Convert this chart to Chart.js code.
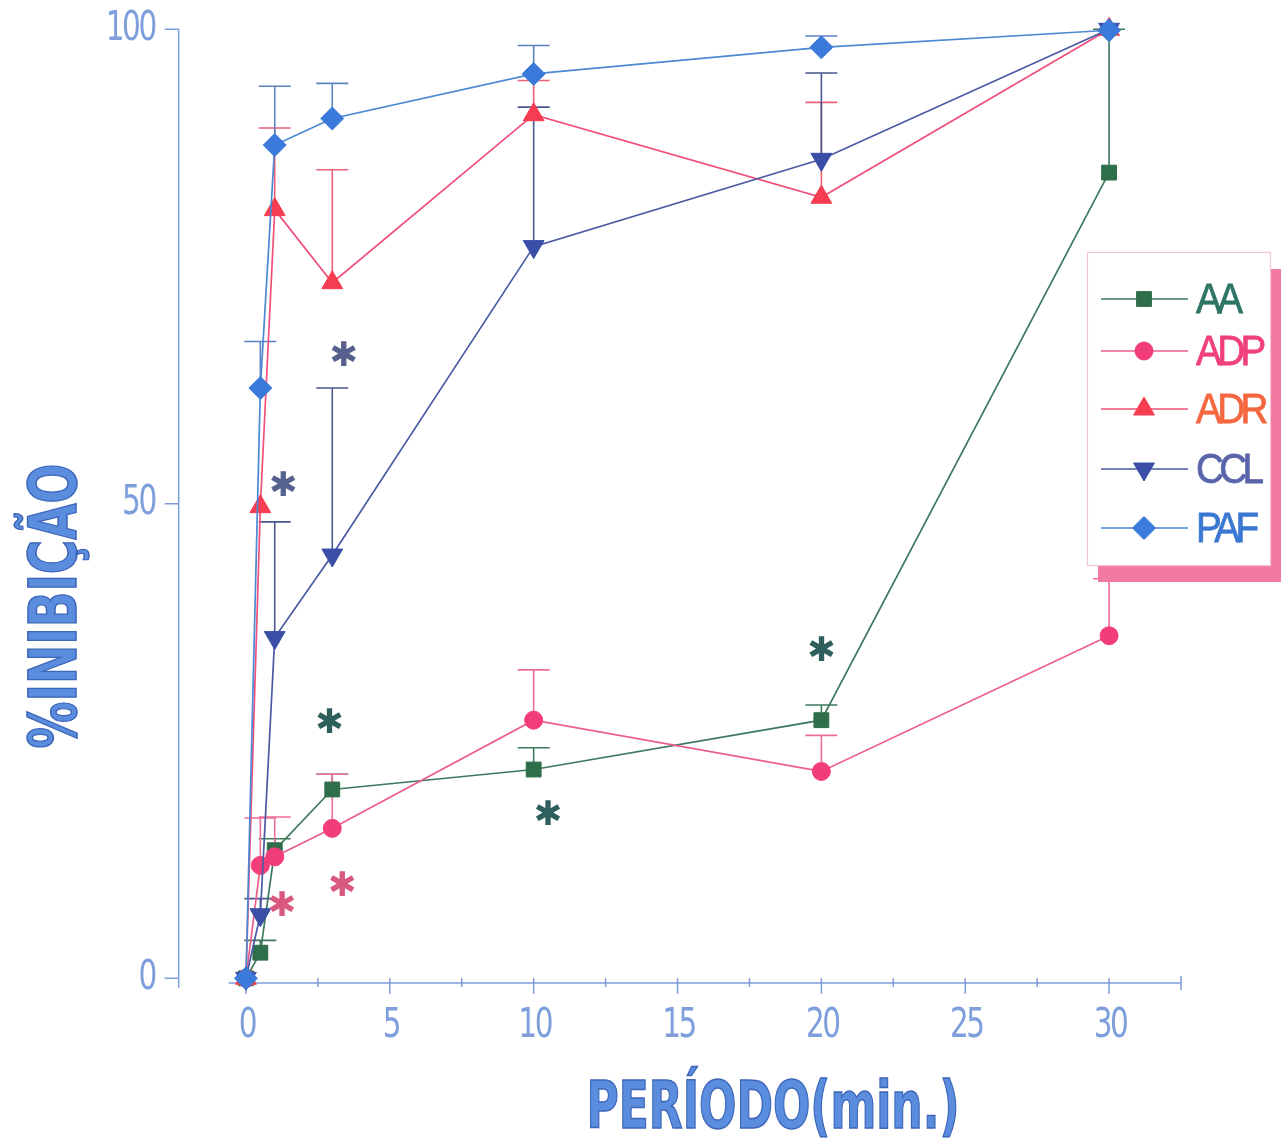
<!DOCTYPE html>
<html><head><meta charset="utf-8">
<script src="https://cdn.jsdelivr.net/npm/chart.js@4.4.1/dist/chart.umd.min.js"></script>
<style>html,body{margin:0;padding:0;background:#fff;}#wrap{width:1283px;height:1141px;position:relative;}</style>
</head><body><div id="wrap"><canvas id="c" width="1283" height="1141"></canvas></div>
<script>
// ---------- DATA ----------
const times = [0, 0.5, 1, 3, 10, 20, 30];
const seriesNames = ['AA', 'ADP', 'ADR', 'CCL', 'PAF'];
const aaValues  = [0, 2.7, 13.5, 19.9, 22.0, 27.2, 84.9];
const aaErrors  = [0, 1.3, 1.2, 1.6, 2.3, 1.6, 15.1];
const adpValues = [0, 11.9, 12.8, 15.8, 27.2, 21.8, 36.1];
const adpErrors = [0, 5.0, 4.2, 5.7, 5.3, 3.8, 6.0];
const adrValues = [0, 49.7, 81.0, 73.3, 91.0, 82.3, 100];
const adrErrors = [0, 0, 8.6, 11.9, 3.6, 10.0, 0];
const cclValues = [0, 6.7, 35.9, 44.6, 77.1, 86.3, 100];
const cclErrors = [0, 1.7, 12.2, 17.6, 14.7, 9.1, 0];
const pafValues = [0, 62.2, 87.8, 90.6, 95.3, 98.1, 99.9];
const pafErrors = [0, 4.9, 6.2, 3.7, 3.0, 1.2, 0];
const xTicks = [0, 5, 10, 15, 20, 25, 30];
const xMinorTicks = [2.5, 7.5, 12.5, 17.5, 22.5, 27.5];
const yTicks = [0, 50, 100];
const starX = [1.3, 3.4, 2.9, 1.25, 3.35, 10.5, 20.0];
const starY = [52.2, 65.9, 27.2, 7.9, 10.0, 17.5, 34.8];
const starSeries = ['CCL', 'CCL', 'AA', 'ADP', 'ADP', 'AA', 'AA'];
const xTitle = 'PERÍODO(min.)';
const yTitle = '%INIBIÇÃO';

// ---------- STYLE ----------
const styles = {
  AA:  {line:'#3d7a5c', fill:'#2f6e4a', err:'#3d7a5c', text:'#2e7565', star:'#2f5f5c', pt:'rect',     r:10.5, rot:0},
  ADP: {line:'#ec5d8c', fill:'#f23d7a', err:'#ee6f96', text:'#f0407c', star:'#d9587e', pt:'circle',   r:9,    rot:0},
  ADR: {line:'#f0507a', fill:'#f63c50', err:'#f0607a', text:'#f5673f', star:'#d9587e', pt:'triangle', r:12,   rot:0},
  CCL: {line:'#4a5aa4', fill:'#3a4ea6', err:'#4a5890', text:'#5a64aa', star:'#56618e', pt:'triangle', r:12,   rot:180},
  PAF: {line:'#4d88d2', fill:'#3b7ada', err:'#5d82c0', text:'#3a78d2', star:'#56618e', pt:'rectRot',  r:11.5, rot:0}
};
const valuesBy = {AA:aaValues, ADP:adpValues, ADR:adrValues, CCL:cclValues, PAF:pafValues};
const errorsBy = {AA:aaErrors, ADP:adpErrors, ADR:adrErrors, CCL:cclErrors, PAF:pafErrors};
const drawOrder = {AA:4, ADP:3, ADR:2, CCL:1, PAF:0};
const axisColor = '#7f9cdc';
const tickTextColor = '#7f9fdc';
const tickFont = '40px "DejaVu Sans Condensed", "Liberation Sans Narrow", sans-serif';

const datasets = seriesNames.map(name => ({
  label: name,
  data: times.map((t, i) => ({x: t, y: valuesBy[name][i]})),
  showLine: true,
  borderColor: styles[name].line,
  borderWidth: 1.7,
  backgroundColor: styles[name].fill,
  pointBackgroundColor: styles[name].fill,
  pointBorderColor: styles[name].fill,
  pointBorderWidth: 1,
  pointStyle: styles[name].pt,
  pointRadius: styles[name].r,
  pointRotation: styles[name].rot,
  pointHoverRadius: styles[name].r,
  order: drawOrder[name],
  clip: false,
  tension: 0
}));

function squeezedText(ctx, text, x, y, sx, align) {
  ctx.save();
  ctx.translate(x, y);
  ctx.scale(sx, 1);
  ctx.textAlign = align;
  ctx.fillText(text, 0, 0);
  ctx.restore();
}

const errorBarsPlugin = {
  id: 'errorBars',
  beforeDatasetsDraw(chart) {
    const ctx = chart.ctx, xs = chart.scales.x, ys = chart.scales.y;
    ctx.save();
    ctx.lineWidth = 1.6;
    seriesNames.forEach(name => {
      ctx.strokeStyle = styles[name].err;
      times.forEach((t, i) => {
        const e = errorsBy[name][i];
        if (!e) return;
        const px = xs.getPixelForValue(t);
        const y0 = ys.getPixelForValue(valuesBy[name][i]);
        const y1 = ys.getPixelForValue(valuesBy[name][i] + e);
        ctx.beginPath();
        ctx.moveTo(px, y0); ctx.lineTo(px, y1);
        ctx.moveTo(px - 16, y1); ctx.lineTo(px + 16, y1);
        ctx.stroke();
      });
    });
    ctx.restore();
  }
};

const axesPlugin = {
  id: 'customAxes',
  beforeDraw(chart) {
    const ctx = chart.ctx, xs = chart.scales.x, ys = chart.scales.y;
    const yAxisX = xs.left - 50;
    const xAxisY = ys.getPixelForValue(-0.5);
    ctx.save();
    ctx.strokeStyle = axisColor;
    ctx.lineWidth = 1.5;
    ctx.beginPath();
    ctx.moveTo(yAxisX, ys.top); ctx.lineTo(yAxisX, ys.bottom);
    yTicks.forEach(v => { const py = ys.getPixelForValue(v); ctx.moveTo(yAxisX - 14, py); ctx.lineTo(yAxisX, py); });
    ctx.stroke();
    ctx.beginPath();
    ctx.moveTo(xs.left, xAxisY); ctx.lineTo(xs.right, xAxisY);
    xTicks.forEach(v => { const px = xs.getPixelForValue(v); ctx.moveTo(px, xAxisY - 5); ctx.lineTo(px, xAxisY + 11); });
    xMinorTicks.forEach(v => { const px = xs.getPixelForValue(v); ctx.moveTo(px, xAxisY - 5); ctx.lineTo(px, xAxisY + 4); });
    ctx.moveTo(xs.right, xAxisY - 7); ctx.lineTo(xs.right, xAxisY + 7);
    ctx.stroke();
    // tick labels
    ctx.fillStyle = tickTextColor;
    ctx.font = tickFont;
    ctx.letterSpacing = '-3px';
    ctx.textBaseline = 'middle';
    yTicks.forEach(v => squeezedText(ctx, String(v), yAxisX - 24, ys.getPixelForValue(v), 0.82, 'right'));
    ctx.textBaseline = 'top';
    xTicks.forEach(v => squeezedText(ctx, String(v), xs.getPixelForValue(v) + 1, xAxisY + 24, 0.82, 'center'));
    ctx.letterSpacing = '0px';
    // titles
    const tfont = 'bold 66px "DejaVu Sans Condensed", "Liberation Sans Narrow", sans-serif';
    ctx.fillStyle = '#5b8ddf';
    ctx.strokeStyle = '#3e66b8';
    ctx.lineWidth = 1.5;
    ctx.textBaseline = 'alphabetic';
    ctx.save();
    ctx.font = tfont;
    let w = ctx.measureText(xTitle).width;
    ctx.translate(773, 1128);
    ctx.scale(373 / w, 1);
    ctx.textAlign = 'center';
    ctx.fillText(xTitle, 0, 0);
    ctx.strokeText(xTitle, 0, 0);
    ctx.restore();
    ctx.save();
    ctx.font = tfont;
    w = ctx.measureText(yTitle).width;
    ctx.translate(76, 606);
    ctx.rotate(-Math.PI / 2);
    ctx.scale(285 / w, 1);
    ctx.textAlign = 'center';
    ctx.fillText(yTitle, 0, 0);
    ctx.strokeText(yTitle, 0, 0);
    ctx.restore();
    ctx.restore();
  },
  afterDraw(chart) {
    const ctx = chart.ctx, xs = chart.scales.x, ys = chart.scales.y;
    ctx.save();
    ctx.font = 'bold 34px "DejaVu Sans", sans-serif';
    ctx.textAlign = 'center';
    ctx.textBaseline = 'middle';
    starX.forEach((v, i) => {
      ctx.fillStyle = styles[starSeries[i]].star;
      ctx.fillText('\u2731', xs.getPixelForValue(v), ys.getPixelForValue(starY[i]) + 4);
    });
    ctx.restore();
    // legend
    ctx.save();
    const bx = 1087, by = 252, bw = 183, bh = 313;
    ctx.fillStyle = '#f27aa0';
    ctx.fillRect(bx + 11, by + 17, bw, bh);
    ctx.fillStyle = '#ffffff';
    ctx.fillRect(bx, by, bw, bh);
    ctx.strokeStyle = '#f3c6d3';
    ctx.lineWidth = 1.2;
    ctx.strokeRect(bx + 0.5, by + 0.5, bw, bh);
    const rowsY = [299, 351, 409, 469, 528];
    seriesNames.forEach((name, i) => {
      const st = styles[name];
      const y = rowsY[i];
      ctx.strokeStyle = st.line;
      ctx.lineWidth = 1.6;
      ctx.beginPath(); ctx.moveTo(1101, y); ctx.lineTo(1188, y); ctx.stroke();
      ctx.fillStyle = st.fill; ctx.strokeStyle = st.fill; ctx.lineWidth = 1;
      Chart.helpers.drawPoint(ctx, {pointStyle: st.pt, radius: st.r, rotation: st.rot, borderWidth: 1}, 1144, y);
      ctx.fillStyle = st.text;
      ctx.font = '42px "Liberation Sans", Arial, sans-serif';
      ctx.letterSpacing = '-5px';
      ctx.textBaseline = 'middle';
      ctx.save();
      ctx.translate(1196, y + 2);
      ctx.scale(0.92, 1);
      ctx.textAlign = 'left';
      ctx.fillText(name, 0, 0);
      ctx.strokeStyle = st.text; ctx.lineWidth = 0.8;
      ctx.strokeText(name, 0, 0);
      ctx.restore();
      ctx.letterSpacing = '0px';
    });
    ctx.restore();
  }
};

new Chart(document.getElementById('c'), {
  type: 'scatter',
  data: {datasets},
  options: {
    responsive: false,
    animation: false,
    events: [],
    layout: {padding: {left: 228.7, right: 102, top: 29.3, bottom: 153.2}},
    plugins: {legend: {display: false}, tooltip: {enabled: false}, title: {display: false}},
    scales: {
      x: {type: 'linear', min: -0.6, max: 32.5, display: false},
      y: {type: 'linear', min: -1, max: 100, display: false}
    }
  },
  plugins: [axesPlugin, errorBarsPlugin]
});
</script></body></html>
